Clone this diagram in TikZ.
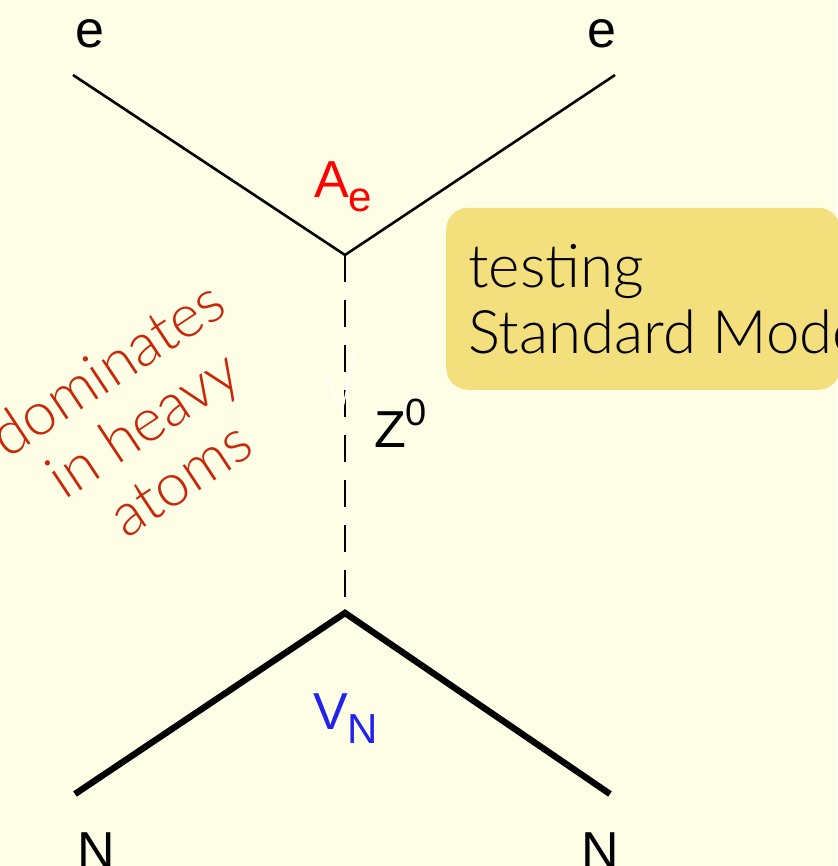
\documentclass[tikz,border=0pt]{standalone}
\usepackage{fontspec}
\setmainfont{Liberation Sans}
\newfontfamily\gillfont{Lato Light}
\definecolor{paper}{HTML}{FEFDE5}
\definecolor{boxfill}{HTML}{F3DF7B}
\definecolor{rednote}{HTML}{C8270A}
\definecolor{vnblue}{HTML}{2222EE}
\tikzset{
    lepton/.style={draw=black,line width=2.6pt},
    nucleon/.style={draw=black,line width=6.4pt},
    boson/.style={draw=black,line width=2pt,dash pattern=on 27pt off 18pt},
    ptext/.style={inner sep=0pt,font=\fontsize{52}{60}\selectfont},
    gilltext/.style={inner sep=0pt,font=\gillfont\fontsize{60}{66}\selectfont}
}
\begin{document}
\begin{tikzpicture}[x=1pt,y=1pt]
            \useasboundingbox[fill=paper] (0,0) rectangle (837,866);
            \coordinate (etl) at (73,791);
            \coordinate (etr) at (615,791);
            \coordinate (vtop) at (345,611);
            \coordinate (vbot) at (345,253);
            \coordinate (nbl) at (75,72);
            \coordinate (nbr) at (610,72);
            \draw[lepton] (etl)--(vtop)--(etr);
            \draw[nucleon,line join=miter] (nbl)--(vbot)--(nbr);
            \draw[boson] (vtop)--(vbot);
            % faint arrow on the propagator
            \draw[white,line width=1.6pt] (324,484)--(329,486)--(342,454)--(355,516);
            \node[ptext] (e1) at (90,832) {e};
            \node[ptext] (e2) at (602,832) {e};
            \node[ptext,anchor=base] (n1) at (96,-2) {N};
            \node[ptext,anchor=base] (n2) at (600,-2) {N};
            \node[ptext,anchor=base west,red] (ae) at (314,668) {A\raisebox{-14pt}{\fontsize{42}{42}\selectfont e}};
            \node[ptext,anchor=base west,vnblue] (vn) at (313,136) {V\raisebox{-14pt}{\fontsize{42}{42}\selectfont N}};
            \node[ptext,anchor=base west] (zz) at (374,418) {Z\raisebox{22pt}{\fontsize{38}{38}\selectfont 0}};
            \node[gilltext,rednote,align=center,rotate=33.5] (note) at (143,443)
                {dominates\\in heavy\\atoms};
            \node[anchor=south west,fill=boxfill,rounded corners=22pt,minimum width=394pt,
                minimum height=182pt,inner sep=0pt] (bx) at (446,476) {};
            \node[gilltext,anchor=west,align=left,text=black] (bxt) at (468,567)
                {testing\\Standard Model};
\end{tikzpicture}
\end{document}
